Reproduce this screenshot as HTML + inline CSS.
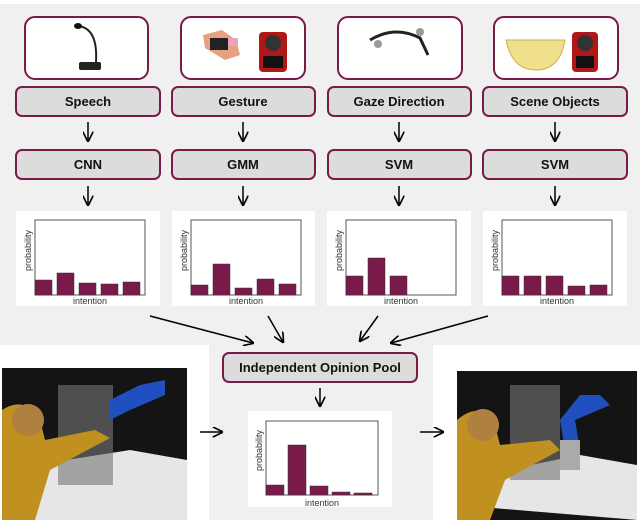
<!DOCTYPE html>
<html><head><meta charset="utf-8"><style>
html,body{margin:0;padding:0;background:#fff}
svg{display:block}
text{font-family:"Liberation Sans",sans-serif}
.lb{font-size:13px;font-weight:bold;fill:#111}
.ax{font-size:9px;fill:#333}
</style></head><body>
<svg width="640" height="520" viewBox="0 0 640 520" xmlns="http://www.w3.org/2000/svg">
<defs><marker id="ah" viewBox="0 0 10 10" refX="9" refY="5" markerWidth="7" markerHeight="7" orient="auto-start-reverse"><path d="M0,0 L10,5 L0,10" fill="none" stroke="#000" stroke-width="1.6"/></marker></defs>
<rect x="0" y="0" width="640" height="520" fill="#fff"/>
<rect x="0" y="4" width="640" height="341" fill="#f0f0f0"/>
<rect x="209" y="345" width="224" height="175" fill="#f0f0f0"/>

<!-- image boxes -->
<g fill="#fff" stroke="#7a1a4a" stroke-width="2">
<rect x="25" y="17" width="123" height="62" rx="10"/>
<rect x="181" y="17" width="124" height="62" rx="10"/>
<rect x="338" y="17" width="124" height="62" rx="10"/>
<rect x="494" y="17" width="124" height="62" rx="10"/>
</g>
<!-- icons -->
<path d="M78,26 Q98,28 96,62" stroke="#222" stroke-width="2" fill="none"/>
<ellipse cx="78" cy="26" rx="4" ry="3" fill="#111"/>
<rect x="79" y="62" width="22" height="8" rx="2" fill="#222"/>
<path d="M203,35 L222,30 L236,40 L240,55 L225,60 L205,48 Z" fill="#e8a080"/>
<rect x="210" y="38" width="18" height="12" fill="#222"/><rect x="228" y="38" width="10" height="8" fill="#f0a0c0"/>
<rect x="259" y="32" width="28" height="40" rx="4" fill="#b01818"/><circle cx="273" cy="43" r="8" fill="#333"/><rect x="263" y="56" width="20" height="12" fill="#111"/>
<path d="M370,40 Q395,25 420,38 L428,55" stroke="#222" stroke-width="3" fill="none"/><circle cx="378" cy="44" r="4" fill="#999"/><circle cx="420" cy="32" r="4" fill="#999"/>
<path d="M506,40 L565,40 Q560,70 536,70 Q512,70 506,40 Z" fill="#f0e08c" stroke="#c8b050"/>
<rect x="572" y="32" width="26" height="40" rx="4" fill="#b01818"/><circle cx="585" cy="43" r="8" fill="#333"/><rect x="576" y="56" width="18" height="12" fill="#111"/>

<!-- label boxes -->
<g fill="#dcdcdc" stroke="#7a1a4a" stroke-width="2">
<rect x="16" y="87" width="144" height="29" rx="6"/><rect x="172" y="87" width="143" height="29" rx="6"/>
<rect x="328" y="87" width="143" height="29" rx="6"/><rect x="483" y="87" width="144" height="29" rx="6"/>
<rect x="16" y="150" width="144" height="29" rx="6"/><rect x="172" y="150" width="143" height="29" rx="6"/>
<rect x="328" y="150" width="143" height="29" rx="6"/><rect x="483" y="150" width="144" height="29" rx="6"/>
<rect x="223" y="353" width="194" height="29" rx="6"/>
</g>
<g class="lb" text-anchor="middle">
<text x="88" y="106">Speech</text><text x="243" y="106">Gesture</text><text x="399" y="106">Gaze Direction</text><text x="555" y="106">Scene Objects</text>
<text x="88" y="169">CNN</text><text x="243" y="169">GMM</text><text x="399" y="169">SVM</text><text x="555" y="169">SVM</text>
<text x="320" y="372">Independent Opinion Pool</text>
</g>

<!-- arrows -->
<g stroke="#000" stroke-width="1.5" marker-end="url(#ah)">
<line x1="88" y1="122" x2="88" y2="141"/><line x1="243" y1="122" x2="243" y2="141"/><line x1="399" y1="122" x2="399" y2="141"/><line x1="555" y1="122" x2="555" y2="141"/>
<line x1="88" y1="186" x2="88" y2="205"/><line x1="243" y1="186" x2="243" y2="205"/><line x1="399" y1="186" x2="399" y2="205"/><line x1="555" y1="186" x2="555" y2="205"/>
<line x1="150" y1="316" x2="253" y2="343"/><line x1="268" y1="316" x2="283" y2="342"/>
<line x1="378" y1="316" x2="360" y2="341"/><line x1="488" y1="316" x2="391" y2="343"/>
<line x1="320" y1="388" x2="320" y2="406"/>
<line x1="200" y1="432" x2="222" y2="432"/><line x1="420" y1="432" x2="443" y2="432"/>
</g>

<!-- charts -->
<g id="charts">
<g transform="translate(16,211)">
<rect width="144" height="95" fill="#fff"/><rect x="19" y="9" width="110" height="75" fill="#fff" stroke="#555"/>
<g fill="#7a1a4a" stroke="#333" stroke-width="0.5"><rect x="19" y="69" width="17" height="15"/><rect x="41" y="62" width="17" height="22"/><rect x="63" y="72" width="17" height="12"/><rect x="85" y="73" width="17" height="11"/><rect x="107" y="71" width="17" height="13"/></g>
<text class="ax" x="74" y="93" text-anchor="middle">intention</text><text class="ax" transform="translate(15,60) rotate(-90)">probability</text></g>
<g transform="translate(172,211)">
<rect width="143" height="95" fill="#fff"/><rect x="19" y="9" width="110" height="75" fill="#fff" stroke="#555"/>
<g fill="#7a1a4a" stroke="#333" stroke-width="0.5"><rect x="19" y="74" width="17" height="10"/><rect x="41" y="53" width="17" height="31"/><rect x="63" y="77" width="17" height="7"/><rect x="85" y="68" width="17" height="16"/><rect x="107" y="73" width="17" height="11"/></g>
<text class="ax" x="74" y="93" text-anchor="middle">intention</text><text class="ax" transform="translate(15,60) rotate(-90)">probability</text></g>
<g transform="translate(327,211)">
<rect width="144" height="95" fill="#fff"/><rect x="19" y="9" width="110" height="75" fill="#fff" stroke="#555"/>
<g fill="#7a1a4a" stroke="#333" stroke-width="0.5"><rect x="19" y="65" width="17" height="19"/><rect x="41" y="47" width="17" height="37"/><rect x="63" y="65" width="17" height="19"/></g>
<text class="ax" x="74" y="93" text-anchor="middle">intention</text><text class="ax" transform="translate(15,60) rotate(-90)">probability</text></g>
<g transform="translate(483,211)">
<rect width="144" height="95" fill="#fff"/><rect x="19" y="9" width="110" height="75" fill="#fff" stroke="#555"/>
<g fill="#7a1a4a" stroke="#333" stroke-width="0.5"><rect x="19" y="65" width="17" height="19"/><rect x="41" y="65" width="17" height="19"/><rect x="63" y="65" width="17" height="19"/><rect x="85" y="75" width="17" height="9"/><rect x="107" y="74" width="17" height="10"/></g>
<text class="ax" x="74" y="93" text-anchor="middle">intention</text><text class="ax" transform="translate(15,60) rotate(-90)">probability</text></g>
<g transform="translate(248,411)">
<rect width="144" height="96" fill="#fff"/><rect x="18" y="10" width="112" height="74" fill="#fff" stroke="#555"/>
<g fill="#7a1a4a" stroke="#333" stroke-width="0.5"><rect x="18" y="74" width="18" height="10"/><rect x="40" y="34" width="18" height="50"/><rect x="62" y="75" width="18" height="9"/><rect x="84" y="81" width="18" height="3"/><rect x="106" y="82" width="18" height="2"/></g>
<text class="ax" x="74" y="95" text-anchor="middle">intention</text><text class="ax" transform="translate(14,60) rotate(-90)">probability</text></g>
</g>

<!-- photos -->
<g>
<rect x="2" y="368" width="185" height="152" fill="#141414"/>
<path d="M2,500 L2,470 L130,450 L187,460 L187,520 L2,520 Z" fill="#e6e6e6"/>
<rect x="58" y="385" width="55" height="100" fill="#777" opacity="0.6"/>
<path d="M110,400 L140,385 L165,380 L165,395 L130,410 L110,420 Z" fill="#2050c0"/>
<path d="M2,410 Q25,395 40,420 L45,440 L95,430 L110,438 L50,470 L35,520 L2,520 Z" fill="#c09020"/>
<circle cx="28" cy="420" r="16" fill="#b08040"/>
<rect x="457" y="371" width="180" height="149" fill="#141414"/>
<path d="M457,505 L457,480 L580,455 L637,465 L637,520 Z" fill="#e6e6e6"/>
<rect x="510" y="385" width="50" height="95" fill="#777" opacity="0.6"/>
<path d="M600,395 L580,395 L560,420 L565,450 L580,450 L575,420 L610,405 Z" fill="#2050c0"/>
<rect x="560" y="440" width="20" height="30" fill="#aaa"/>
<path d="M457,420 Q480,400 495,425 L500,445 L550,440 L560,450 L505,480 L490,520 L457,520 Z" fill="#c09020"/>
<circle cx="483" cy="425" r="16" fill="#b08040"/>
</g>
</svg>
</body></html>
